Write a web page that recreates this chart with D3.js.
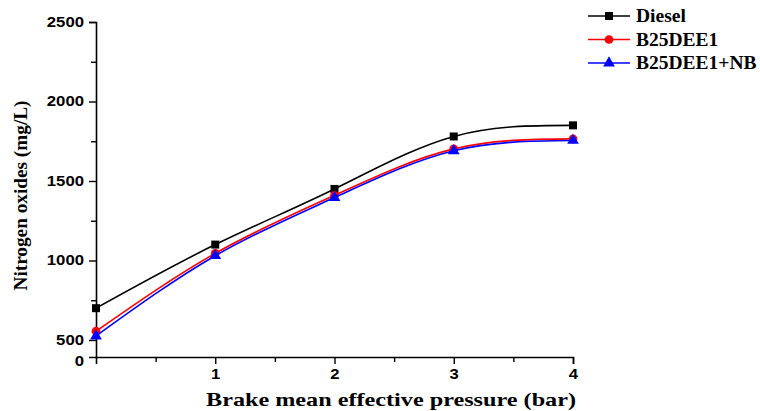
<!DOCTYPE html>
<html>
<head>
<meta charset="utf-8">
<script src="https://cdn.jsdelivr.net/npm/d3@7"></script>
<style>
  body { margin: 0; background: #fff; }
  svg { display: block; }
</style>
</head>
<body>
<div id="chart"></div>
<script>
// data
const pressure = [0, 1, 2, 3, 4];
const diesel = [700, 1100, 1450, 1780, 1850];
const b25dee1 = [555, 1045, 1410, 1702, 1765];
const b25dee1nb = [525, 1030, 1396, 1690, 1755];
const seriesNames = ['Diesel', 'B25DEE1', 'B25DEE1+NB'];
const yTicks = [500, 1000, 1500, 2000, 2500];
const xTicks = [1, 2, 3, 4];
const yBreak = 393; // bottom of the broken axis, labelled "0"

const width = 760, height = 411;
const svg = d3.select('#chart').append('svg')
    .attr('width', width)
    .attr('height', height);

const x = d3.scaleLinear().domain([0, 4]).range([96, 573]);
const y = d3.scaleLinear().domain([yBreak, 2500]).range([357, 22]);

// axes
const yAxis = svg.append('g')
    .attr('transform', `translate(${x(0)},0)`)
    .call(d3.axisLeft(y)
        .tickValues([yBreak].concat(yTicks))
        .tickFormat(d => d === yBreak ? '0' : d)
        .tickSize(7).tickPadding(5));
const zeroTick = yAxis.selectAll('.tick').filter(d => d === yBreak);
zeroTick.select('line').remove();
zeroTick.select('text').attr('y', 4);

svg.append('g')
    .attr('transform', `translate(${x(0)},0)`)
    .call(d3.axisLeft(y).tickValues([750, 1250, 1750, 2250]).tickSize(5).tickFormat(''))
    .select('.domain').remove();

const xAxis = svg.append('g')
    .attr('transform', `translate(0,${y(yBreak)})`)
    .call(d3.axisBottom(x).tickValues(xTicks).tickFormat(d3.format('d')).tickSize(7).tickPadding(5));
svg.append('g')
    .attr('transform', `translate(0,${y(yBreak)})`)
    .call(d3.axisBottom(x).tickValues([0.5, 1.5, 2.5, 3.5]).tickSize(5).tickFormat(''))
    .select('.domain').remove();

svg.selectAll('.domain').attr('stroke', '#000').attr('stroke-width', 1.6);
svg.selectAll('.tick line').attr('stroke', '#000').attr('stroke-width', 1.4);
svg.selectAll('.tick text')
    .attr('font-family', '"Liberation Sans", Arial, sans-serif')
    .attr('font-weight', 'bold')
    .attr('font-size', 14)
    .attr('fill', '#000')
    .attr('textLength', function() { return this.textContent.length * 9.3; })
    .attr('lengthAdjust', 'spacingAndGlyphs');

// titles
svg.append('text')
    .attr('transform', `translate(27,${(y(2500) + y(yBreak)) / 2 + 6}) rotate(-90)`)
    .attr('text-anchor', 'middle')
    .attr('font-family', '"Liberation Serif", "Times New Roman", serif')
    .attr('font-weight', 'bold')
    .attr('font-size', 19)
    .attr('textLength', 190)
    .attr('lengthAdjust', 'spacingAndGlyphs')
    .text('Nitrogen oxides (mg/L)');
svg.append('text')
    .attr('x', 391)
    .attr('y', 406)
    .attr('text-anchor', 'middle')
    .attr('font-family', '"Liberation Serif", "Times New Roman", serif')
    .attr('font-weight', 'bold')
    .attr('font-size', 19)
    .attr('textLength', 370)
    .attr('lengthAdjust', 'spacingAndGlyphs')
    .text('Brake mean effective pressure (bar)');

// series
const series = [
    { name: seriesNames[0], values: diesel, color: '#000000', symbol: d3.symbolSquare, size: 64 },
    { name: seriesNames[1], values: b25dee1, color: '#ff0000', symbol: d3.symbolCircle, size: 60 },
    { name: seriesNames[2], values: b25dee1nb, color: '#0000ff', symbol: d3.symbolTriangle, size: 60 }
];

const line = d3.line()
    .x((d, i) => x(pressure[i]))
    .y(d => y(d))
    .curve(d3.curveNatural);

series.forEach(s => {
    svg.append('path')
        .datum(s.values)
        .attr('fill', 'none')
        .attr('stroke', s.color)
        .attr('stroke-width', 1.6)
        .attr('d', line);
    svg.append('g')
        .selectAll('path')
        .data(s.values)
        .enter()
        .append('path')
        .attr('transform', (d, i) => `translate(${x(pressure[i])},${y(d)})`)
        .attr('d', d3.symbol().type(s.symbol).size(s.size))
        .attr('fill', s.color);
});

// legend
const legend = svg.append('g').attr('transform', 'translate(588,16)');
series.forEach((s, i) => {
    const g = legend.append('g').attr('transform', `translate(0,${i * 23.5})`);
    g.append('line')
        .attr('x1', 0).attr('x2', 42)
        .attr('stroke', s.color).attr('stroke-width', 1.6);
    g.append('path')
        .attr('transform', 'translate(21,0)')
        .attr('d', d3.symbol().type(s.symbol).size(s.size))
        .attr('fill', s.color);
    g.append('text')
        .attr('x', 48).attr('y', 6)
        .attr('font-family', '"Liberation Serif", "Times New Roman", serif')
        .attr('font-weight', 'bold')
        .attr('font-size', 19.5)
        .text(s.name);
});
</script>
</body>
</html>
